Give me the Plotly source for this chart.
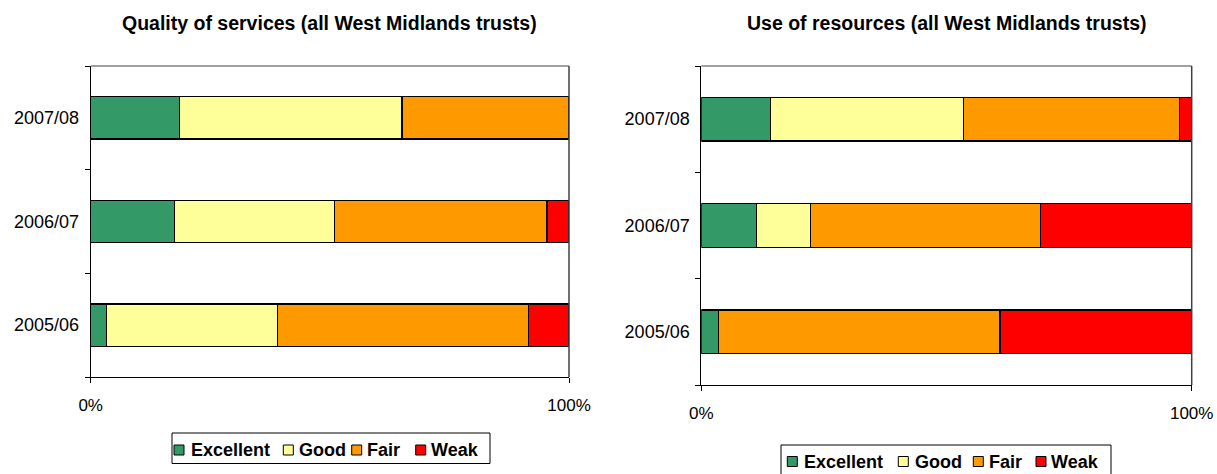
import plotly.graph_objects as go

categories = ["2005/06", "2006/07", "2007/08"]
series = ["Excellent", "Good", "Fair", "Weak"]
colors = ["#339966", "#FFFF99", "#FF9900", "#FF0000"]

# Quality of services (% of trusts)
quality_excellent = [3.3, 17.5, 18.5]
quality_good = [35.7, 33.5, 46.6]
quality_fair = [52.6, 44.4, 34.9]
quality_weak = [8.4, 4.6, 0.0]

# Use of resources (% of trusts)
resources_excellent = [3.5, 11.2, 14.1]
resources_good = [0.0, 11.0, 39.4]
resources_fair = [57.4, 46.9, 44.0]
resources_weak = [39.1, 30.9, 2.5]

tick_vals = [0, 100]
tick_text = ["0%", "100%"]

titles = ["Quality of services (all West Midlands trusts)",
          "Use of resources (all West Midlands trusts)"]

FONT = "Liberation Sans, Arial, sans-serif"
W, H = 1217, 474


def px_x(p):
    return p / W


def px_y(p):
    return (H - p) / H


fig = go.Figure()

quality = [quality_excellent, quality_good, quality_fair, quality_weak]
resources = [resources_excellent, resources_good, resources_fair, resources_weak]

for name, col, vals in zip(series, colors, quality):
    fig.add_trace(go.Bar(
        y=categories, x=vals, name=name, orientation="h",
        marker=dict(color=col, line=dict(color="black", width=1.3)),
        xaxis="x", yaxis="y", showlegend=False,
    ))
for name, col, vals in zip(series, colors, resources):
    fig.add_trace(go.Bar(
        y=categories, x=vals, name=name, orientation="h",
        marker=dict(color=col, line=dict(color="black", width=1.3)),
        xaxis="x2", yaxis="y2", showlegend=False,
    ))

# plot areas in page pixels: left, right, top, bottom
P1 = (90.7, 569.0, 66.0, 377.0)
P2 = (701.3, 1191.7, 66.0, 385.0)

xcommon = dict(range=[0, 100], tickvals=tick_vals, ticktext=tick_text,
               showgrid=False, zeroline=False, showline=True, linecolor="black",
               linewidth=1, ticks="outside", ticklen=5, tickcolor="black",
               tickfont=dict(family=FONT, size=17, color="black"), fixedrange=True,
               ticklabelstandoff=8, automargin=False)
ycommon = dict(type="category", categoryorder="array", categoryarray=categories,
               showgrid=False, zeroline=False, showline=True, linecolor="black",
               linewidth=1, ticks="outside", ticklen=5, tickcolor="black",
               tickson="boundaries",
               tickfont=dict(family=FONT, size=18, color="black"), fixedrange=True,
               ticklabelstandoff=7, automargin=False)

shapes = []
annotations = []

for i, (P, title) in enumerate(zip([P1, P2], titles)):
    xr = "x domain" if i == 0 else "x2 domain"
    yr = "y domain" if i == 0 else "y2 domain"
    shapes.append(dict(type="line", xref=xr, yref=yr, x0=0, x1=1, y0=1, y1=1,
                       line=dict(color="#808080", width=1.5)))
    shapes.append(dict(type="line", xref=xr, yref=yr, x0=1, x1=1, y0=0, y1=1,
                       line=dict(color="#404040", width=1.5)))
    annotations.append(dict(text="<b>" + title + "</b>", x=px_x((P[0] + P[1]) / 2),
                            y=px_y(23), xref="paper", yref="paper", showarrow=False,
                            xanchor="center", yanchor="middle",
                            font=dict(family=FONT, size=19.5, color="black")))

# hand-built legends (box, swatches, labels) in page pixels
legend_boxes = [(172, 433, 490, 463.5), (781, 445, 1111, 490)]
legend_text_y = [450, 461.5]
legend_swatch_x = [[174, 283.3, 351.7, 415.7], [787.3, 898.3, 973.3, 1036]]
legend_text_x = [[191, 298.5, 366.5, 431], [804.5, 914.5, 988.8, 1051]]

for b, ty, sx, tx in zip(legend_boxes, legend_text_y, legend_swatch_x, legend_text_x):
    shapes.append(dict(type="rect", xref="paper", yref="paper",
                       x0=px_x(b[0]), x1=px_x(b[2]), y0=px_y(b[3]), y1=px_y(b[1]),
                       line=dict(color="black", width=1), fillcolor="white", layer="below"))
    for name, col, x_sw, x_t in zip(series, colors, sx, tx):
        shapes.append(dict(type="rect", xref="paper", yref="paper",
                           x0=px_x(x_sw), x1=px_x(x_sw + 10),
                           y0=px_y(ty + 5), y1=px_y(ty - 5),
                           line=dict(color="black", width=1), fillcolor=col))
        annotations.append(dict(text="<b>" + name + "</b>", x=px_x(x_t - 2), y=px_y(ty),
                                xref="paper", yref="paper", showarrow=False,
                                xanchor="left", yanchor="middle",
                                font=dict(family=FONT, size=18, color="black")))

fig.update_layout(
    width=W, height=H,
    margin=dict(l=0, r=0, t=0, b=0, pad=0, autoexpand=False),
    paper_bgcolor="white", plot_bgcolor="white",
    barmode="stack", bargap=0.59,
    font=dict(family=FONT, color="black"),
    showlegend=False,
    hovermode=False,
    xaxis=dict(domain=[px_x(P1[0]), px_x(P1[1])], anchor="y", **xcommon),
    yaxis=dict(domain=[px_y(P1[3]), px_y(P1[2])], anchor="x", **ycommon),
    xaxis2=dict(domain=[px_x(P2[0]), px_x(P2[1])], anchor="y2", **xcommon),
    yaxis2=dict(domain=[px_y(P2[3]), px_y(P2[2])], anchor="x2", **ycommon),
    shapes=shapes,
    annotations=annotations,
)

fig.write_html("out.html",
               config={"displayModeBar": False},
               post_script="document.body.style.margin='0px';"
                           "document.body.style.overflow='hidden';")
